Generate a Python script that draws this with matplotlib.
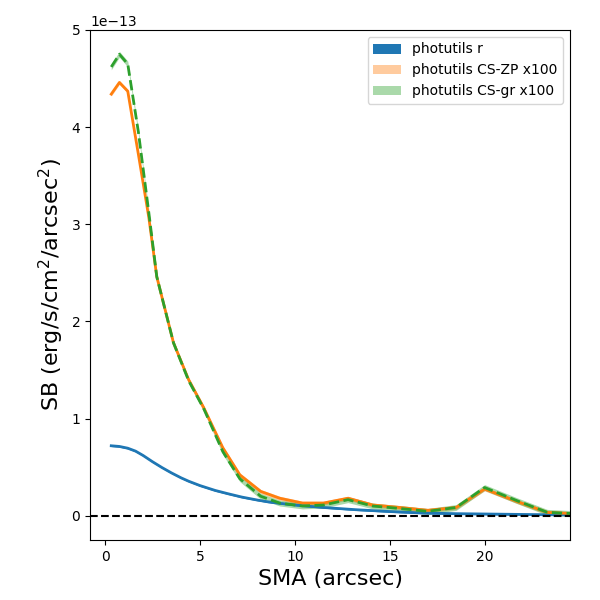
import numpy as np
import matplotlib
matplotlib.use("Agg")
import matplotlib.pyplot as plt

# SMA grid (arcsec) for the photutils profiles
sma = [0.32, 0.75, 1.19, 1.75, 2.3, 2.72, 3.6, 4.4, 5.2, 6.2, 7.1, 8.2, 9.2,
       10.4, 11.5, 12.8, 14.1, 15.5, 17.0, 18.5, 20.0, 21.7, 23.3, 24.8]
# CS-ZP x100 profile (units of 1e-13)
sb_zp = [4.34, 4.46, 4.37, 3.72, 3.07, 2.46, 1.78, 1.40, 1.11, 0.70, 0.42, 0.25, 0.18,
         0.13, 0.13, 0.18, 0.11, 0.085, 0.055, 0.085, 0.275, 0.147, 0.034, 0.02]
# CS-gr x100 profile (units of 1e-13)
sb_gr = [4.62, 4.75, 4.65, 3.95, 3.12, 2.46, 1.78, 1.39, 1.10, 0.66, 0.38, 0.20, 0.13,
         0.10, 0.11, 0.165, 0.10, 0.075, 0.045, 0.085, 0.29, 0.155, 0.035, 0.02]

# r-band profile (smooth)
sma_r = [0.32, 0.75, 1.19, 1.6, 2.0, 2.5, 3.0, 3.5, 4.0, 4.4, 5.0, 5.8, 6.5, 7.2, 8.0,
         8.6, 9.8, 10.4, 11.5, 13.2, 15.0, 16.7, 18.5, 20.3, 22.0, 23.4, 24.8]
sb_r = [0.72, 0.713, 0.695, 0.665, 0.62, 0.555, 0.495, 0.44, 0.39, 0.355, 0.31, 0.26, 0.225,
        0.192, 0.162, 0.142, 0.114, 0.103, 0.085, 0.062, 0.043, 0.028, 0.021, 0.017,
        0.013, 0.010, 0.008]

scale = 1e-13
sma = np.array(sma); sb_zp = np.array(sb_zp) * scale; sb_gr = np.array(sb_gr) * scale
sma_r = np.array(sma_r); sb_r = np.array(sb_r) * scale

fig = plt.figure(figsize=(6, 6), dpi=100)
ax = fig.add_axes([0.15, 0.10, 0.80, 0.85])

err_r = 0.008 * scale
err_zp = 0.02 * scale
err_gr = 0.03 * scale

ax.fill_between(sma_r, sb_r - err_r, sb_r + err_r, color='tab:blue', alpha=1.0,
                lw=0, label='photutils r')
ax.plot(sma_r, sb_r, color='tab:blue', lw=2)
ax.fill_between(sma, sb_zp - err_zp, sb_zp + err_zp, color='tab:orange', alpha=0.4,
                lw=0, label='photutils CS-ZP x100')
ax.plot(sma, sb_zp, color='tab:orange', lw=2)
ax.fill_between(sma, sb_gr - err_gr, sb_gr + err_gr, color='tab:green', alpha=0.4,
                lw=0, label='photutils CS-gr x100')
ax.plot(sma, sb_gr, color='tab:green', lw=2, ls='--')

ax.axhline(0, color='black', ls='--', lw=1.5)

ax.set_xlim(-0.8, 24.5)
ax.set_ylim(-0.25e-13, 5e-13)
ax.set_xlabel('SMA (arcsec)', fontsize=16)
ax.set_ylabel('SB (erg/s/cm$^2$/arcsec$^2$)', fontsize=16)
ax.legend(loc='upper right')

fig.savefig('out.png', dpi=100)
